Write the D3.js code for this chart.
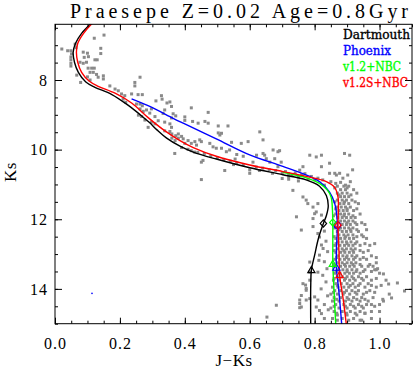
<!DOCTYPE html>
<html lang="en">
<head>
<meta charset="utf-8" />
<title>Praesepe CMD</title>
<script src="https://d3js.org/d3.v7.min.js"></script>
<style>
  body { margin: 0; background: #fff; }
  svg { display: block; }
</style>
</head>
<body>
<svg id="chart" width="415" height="371"></svg>
<script>
// isochrones, [J-Ks, Ks]
const dartmouth = [[0.135,6.17],[0.108,6.40],[0.082,6.66],[0.063,6.95],[0.056,7.2],[0.06,7.49],[0.072,7.78],[0.095,8.06],
  [0.123,8.21],[0.174,8.41],[0.226,8.73],[0.277,9.11],[0.292,9.23],[0.315,9.44],[0.344,9.67],[0.385,9.9],[0.426,10.07],
  [0.497,10.27],[0.6,10.52],[0.702,10.72],[0.774,10.87],[0.815,11.05],[0.836,11.32],[0.842,11.61],[0.836,11.9],
  [0.827,12.12],[0.812,12.54],[0.8,13.03],[0.79,13.46],[0.788,13.91],[0.788,15.2]];
const phoenix = [[0.236,8.54],[0.292,8.76],[0.364,9.1],[0.395,9.24],[0.497,9.69],[0.6,10.15],[0.702,10.48],[0.785,10.77],
  [0.815,10.92],[0.846,11.22],[0.862,11.55],[0.868,11.86],[0.87,12.17],[0.867,12.93],[0.867,13.39],[0.875,14.1],[0.885,15.2]];
const v12NBC = [[0.702,10.65],[0.74,10.73],[0.775,10.81],[0.815,10.97],[0.84,11.17],[0.851,11.37],[0.855,11.75],
  [0.856,12.09],[0.856,12.74],[0.856,13.28],[0.86,14.1],[0.866,15.2]];
const v12sNBC = [[0.14,6.17],[0.112,6.4],[0.088,6.66],[0.07,6.95],[0.066,7.2],[0.07,7.49],[0.082,7.78],[0.105,8.03],
  [0.133,8.18],[0.185,8.38],[0.236,8.66],[0.287,9.08],[0.34,9.47],[0.385,9.74],[0.426,9.94],[0.497,10.19],[0.6,10.44],
  [0.702,10.63],[0.774,10.77],[0.836,10.92],[0.862,11.09],[0.872,11.36],[0.873,11.76],[0.872,12.17],[0.875,12.93],
  [0.877,13.6],[0.888,14.3],[0.9,15.2]];

// marked masses on each isochrone: [J-Ks, Ks, symbol]
const dartmouthMarks = [[0.827,12.12,"diamond"],[0.79,13.46,"triangle"]];
const phoenixMarks = [[0.87,12.17,"circle"],[0.867,13.39,"triangle"]];
const v12NBCMarks = [[0.856,12.09,"diamond"],[0.856,13.28,"triangle"]];
const v12sNBCMarks = [[0.872,12.17,"diamond"],[0.877,13.6,"triangle"]];

const legendNames = ["Dartmouth","Phoenix","v1.2+NBC","v1.2S+NBC"];
const legendColors = ["#000000","#0000ff","#00ff00","#ff0000"];
const legendWidths = [67, 48, 58, 65];

const xTicks = [0.0,0.2,0.4,0.6,0.8,1.0];
const yTicks = [8,10,12,14];

// cluster members, [J-Ks, Ks]
const starsUpper = [[0.021,7.11],[0.039,7.16],[0.049,7.16],[0.051,7.25],[0.049,7.34],[0.049,7.42],[0.049,7.52],[0.049,7.6],
  [0.062,6.97],[0.065,7.07],[0.087,7.2],[0.1,7.23],[0.103,7.33],[0.09,7.35],[0.077,7.49],[0.087,7.52],[0.097,7.49],
  [0.121,6.8],[0.151,6.71],[0.141,7.09],[0.141,7.24],[0.123,7.42],[0.13,7.42],
  [0.102,7.66],[0.113,7.66],[0.121,7.66],[0.108,7.78],[0.118,7.78],[0.067,7.86],[0.079,8.07],
  [0.128,7.84],[0.133,7.92],[0.149,7.88],[0.149,7.97],[0.169,8.17],[0.1,7.91],[0.108,8.0],
  [0.262,7.92],[0.246,8.07],[0.246,8.17],[0.185,8.26],[0.195,8.31],[0.205,8.4],[0.215,8.45],
  [0.236,8.4],[0.256,8.42],[0.269,8.42],[0.21,8.55],[0.218,8.64],[0.251,8.69],[0.262,8.69],[0.269,8.74],
  [0.328,8.45],[0.33,8.55],[0.345,8.66],[0.354,8.63],[0.359,8.76],[0.338,8.86],[0.333,8.96],[0.311,8.6],
  [0.262,8.83],[0.272,8.9],[0.282,8.86],[0.297,8.83],[0.257,9.01],[0.267,9.05],[0.292,8.95],[0.308,9.05],
  [0.277,9.15],[0.297,9.21],[0.308,9.26],[0.318,9.17],[0.338,9.21],[0.354,9.26],[0.359,9.36],
  [0.287,9.36],[0.338,9.46],[0.354,9.48]];
const starsMiddle = [[0.42,8.8],[0.364,8.97],[0.372,9.03],[0.359,9.09],[0.4,9.06],[0.4,9.16],[0.472,8.93],
  [0.424,9.19],[0.441,9.24],[0.462,9.19],[0.472,9.24],[0.503,9.32],[0.533,9.32],
  [0.503,9.52],[0.513,9.53],[0.508,9.58],
  [0.36,9.55],[0.372,9.6],[0.38,9.55],[0.39,9.62],[0.395,9.69],[0.41,9.74],[0.38,9.67],[0.37,9.74],[0.36,9.67],
  [0.369,10.11],[0.4,9.82],[0.42,9.82],[0.431,9.77],[0.436,9.87],[0.446,9.72],[0.451,9.77],
  [0.477,9.82],[0.487,9.92],[0.497,9.96],[0.513,9.96],[0.528,10.06],[0.538,10.01],
  [0.451,10.36],[0.456,10.31],[0.451,10.86],[0.523,10.6],
  [0.544,9.79],[0.574,9.82],[0.595,9.77],[0.631,9.49],[0.641,9.72],
  [0.672,10.01],[0.687,10.06],[0.621,10.16],[0.641,10.11],[0.651,10.26],
  [0.61,10.36],[0.662,10.36],[0.677,10.26],[0.687,10.49],[0.697,10.36],
  [0.56,10.38],[0.58,10.43],[0.62,10.5],[0.64,10.53],[0.66,10.58],[0.68,10.6],[0.7,10.68],[0.71,10.63],
  [0.54,10.33],[0.52,10.28],[0.5,10.23],[0.48,10.18],[0.46,10.11],[0.44,10.08],[0.42,10.03],
  [0.55,10.43],[0.6,10.58],[0.63,10.6],[0.67,10.68],[0.72,10.78],
  [0.56,10.14],[0.58,10.19],[0.555,10.27],[0.41,9.99],[0.43,10.07],[0.39,9.94],
  [0.6,10.68],[0.7,10.83]];
const starsKnee = [[0.646,10.16],[0.692,10.03],[0.785,10.16],[0.805,10.21],[0.821,10.16],[0.764,10.49],[0.821,10.49],[0.846,10.39],
  [0.846,10.68],[0.862,10.68],[0.877,10.68],[0.887,10.82],[0.902,10.73],[0.85,10.92],[0.865,10.97],[0.88,10.94],
  [0.895,11.02],[0.91,10.92],[0.754,10.59],[0.867,10.73],
  [0.73,10.75],[0.75,10.79],[0.76,10.72],[0.78,10.85],[0.8,10.87],[0.74,10.67],[0.77,10.69],[0.72,10.69],
  [0.79,10.77],[0.81,10.82],[0.825,10.87],[0.83,11.02],[0.72,10.85],[0.75,10.9],
  [0.892,10.11],[0.908,10.16],[0.917,10.58],
  [0.733,11.17],[0.764,11.36],[0.744,11.93]];
const starsBlueward = [[0.774,11.45],[0.779,11.55],[0.8,11.84],[0.795,11.98],[0.759,12.31],[0.81,12.41],[0.815,12.51],
  [0.821,12.74],[0.826,12.84],[0.815,13.03],[0.813,13.18],[0.81,13.52],[0.764,13.85],[0.759,14.19],[0.754,14.42],
  [0.759,14.52],[0.785,14.28],[0.8,14.23],[0.81,14.32],[0.805,14.52],[0.815,14.62],[0.821,14.71],
  [0.81,11.55],[0.795,11.65],[0.805,11.79],[0.821,11.88],[0.795,12.21],
  [0.772,13.89],[0.774,13.99],[0.754,14.32],[0.754,14.54],[0.682,14.47],[0.653,14.81],
  [0.785,13.23],[0.785,13.52],[0.785,13.75],[0.774,14.04],[0.774,14.32],
  [0.83,12.34],[0.835,12.63],[0.84,12.93],[0.83,13.22],[0.838,13.42],[0.825,13.61],[0.835,13.8],[0.82,14.0],
  [0.84,14.2],[0.83,14.45],[0.842,14.6],[0.83,14.85]];
// dense lower main sequence, read row by row: [Ks, [J-Ks...]]
const starsDenseRows = [
  [11.05,[0.87,0.89,0.905]],
  [11.10,[0.862,0.9]],
  [11.15,[0.88,0.895,0.92]],
  [11.25,[0.87,0.885,0.9,0.93]],
  [11.30,[0.875,0.912]],
  [11.35,[0.88,0.892,0.905]],
  [11.45,[0.87,0.885,0.898,0.915]],
  [11.50,[0.862,0.892,0.925]],
  [11.55,[0.878,0.89,0.905,0.935]],
  [11.65,[0.87,0.882,0.895,0.91]],
  [11.70,[0.865,0.9,0.93]],
  [11.75,[0.875,0.888,0.9,0.92]],
  [11.85,[0.865,0.88,0.892,0.905,0.94]],
  [11.90,[0.858,0.89,0.918]],
  [11.95,[0.872,0.885,0.898,0.912,0.925]],
  [12.05,[0.88,0.892,0.905,0.918]],
  [12.10,[0.868,0.9,0.925,0.945]],
  [12.15,[0.885,0.898,0.91,0.93,0.955]],
  [12.25,[0.862,0.88,0.892,0.905,0.918]],
  [12.30,[0.875,0.91,0.93,0.96]],
  [12.35,[0.87,0.885,0.898,0.912,0.935]],
  [12.45,[0.875,0.89,0.903,0.918,0.945]],
  [12.50,[0.86,0.895,0.93,0.95]],
  [12.55,[0.865,0.88,0.893,0.907,0.92,0.96]],
  [12.65,[0.872,0.885,0.898,0.912,0.93]],
  [12.70,[0.866,0.9,0.925,0.955,0.985]],
  [12.75,[0.862,0.878,0.892,0.905,0.918,0.94,0.97]],
  [12.85,[0.87,0.885,0.898,0.912,0.925]],
  [12.90,[0.86,0.89,0.918,0.94,0.965]],
  [12.95,[0.865,0.88,0.893,0.907,0.92,0.95]],
  [13.05,[0.872,0.887,0.9,0.915,0.93,0.975]],
  [13.10,[0.868,0.898,0.925,0.95,0.99]],
  [13.15,[0.862,0.878,0.892,0.905,0.92,0.94,0.96]],
  [13.25,[0.87,0.885,0.9,0.913,0.927,0.99]],
  [13.30,[0.858,0.892,0.918,0.94,0.97]],
  [13.35,[0.865,0.88,0.895,0.908,0.922,0.945,0.965]],
  [13.45,[0.872,0.887,0.9,0.915,0.93,0.955,0.985]],
  [13.50,[0.866,0.9,0.928,0.95,0.975]],
  [13.55,[0.862,0.878,0.893,0.907,0.92,0.94,1.0]],
  [13.65,[0.87,0.885,0.9,0.915,0.935,0.96]],
  [13.70,[0.86,0.895,0.92,0.945,0.99]],
  [13.75,[0.858,0.875,0.892,0.908,0.925,0.95,0.975,1.02]],
  [13.85,[0.865,0.882,0.9,0.918,0.94,0.965]],
  [13.90,[0.87,0.91,0.935,0.975,1.005]],
  [13.95,[0.855,0.872,0.89,0.905,0.925,0.955,0.99]],
  [14.05,[0.862,0.88,0.898,0.915,0.935,0.97]],
  [14.10,[0.858,0.892,0.925,0.96,0.985]],
  [14.15,[0.85,0.87,0.888,0.908,0.93,0.95,1.03]],
  [14.25,[0.86,0.88,0.9,0.92,0.945,0.98]],
  [14.30,[0.868,0.905,0.93,0.955,1.01]],
  [14.35,[0.855,0.875,0.895,0.915,0.94,0.965]],
  [14.45,[0.865,0.89,0.91,0.935,0.96,1.0]],
  [14.50,[0.86,0.895,0.92,0.945,0.985]],
  [14.55,[0.85,0.875,0.9,0.925,0.95]],
  [14.65,[0.86,0.885,0.91,0.94,0.975]],
  [14.70,[0.868,0.898,0.925,0.955]],
  [14.75,[0.87,0.9,0.93]],
  [14.85,[0.855,0.885,0.92]],
  [14.90,[0.87,0.905,0.945]]];
const starsRedTail = [[0.994,13.42],[1.012,13.57],[1.028,13.86],[1.055,13.83],[1.077,14.06],[1.037,14.26],[1.012,14.35],
  [0.975,14.45],[1.0,14.65],[0.955,14.7],[0.975,14.85],[0.94,14.9],[0.98,13.35],[0.99,13.45]];
const strayBlue = [[0.114,14.13]];

const svg = d3.select("#chart");
const margin = {left: 55, right: 412, top: 24.3, bottom: 323.7};
const x = d3.scaleLinear().domain([0, 1.1]).range([margin.left, margin.right]);
const y = d3.scaleLinear().domain([6.4, 15]).range([margin.top, margin.bottom]);

svg.append("clipPath").attr("id", "plotclip")
  .append("rect")
  .attr("x", margin.left).attr("y", margin.top)
  .attr("width", margin.right - margin.left).attr("height", margin.bottom - margin.top);

const plot = svg.append("g").attr("clip-path", "url(#plotclip)");

// stars
const stars = starsUpper.concat(starsMiddle, starsKnee, starsBlueward, starsRedTail);
starsDenseRows.forEach(r => r[1].forEach(c => stars.push([c, r[0]])));

plot.selectAll("rect.star")
  .data(stars)
  .enter()
  .append("rect")
  .attr("class", "star")
  .attr("x", d => x(d[0]) - 1.5)
  .attr("y", d => y(d[1]) - 1.5)
  .attr("width", 3)
  .attr("height", 3)
  .attr("fill", "#8a8a8a");

plot.selectAll("circle.stray")
  .data(strayBlue)
  .enter()
  .append("circle")
  .attr("cx", d => x(d[0]))
  .attr("cy", d => y(d[1]))
  .attr("r", 0.8)
  .attr("fill", "#0000ff");

// isochrones
const line = d3.line()
  .x(d => x(d[0]))
  .y(d => y(d[1]))
  .curve(d3.curveCatmullRom.alpha(0.5));

const models = [
  {data: dartmouth, marks: dartmouthMarks, color: legendColors[0]},
  {data: phoenix, marks: phoenixMarks, color: legendColors[1]},
  {data: v12NBC, marks: v12NBCMarks, color: legendColors[2]},
  {data: v12sNBC, marks: v12sNBCMarks, color: legendColors[3]}
];

models.forEach(m => {
  plot.append("path")
    .datum(m.data)
    .attr("d", line)
    .attr("fill", "none")
    .attr("stroke", m.color)
    .attr("stroke-width", 1.4);
});

function markPath(kind) {
  if (kind === "diamond") return "M0,-3.6L3.2,0L0,3.6L-3.2,0Z";
  if (kind === "triangle") return "M0,-3.6L3.6,2.6L-3.6,2.6Z";
  return d3.arc()({innerRadius: 0, outerRadius: 3.2, startAngle: 0, endAngle: 2 * Math.PI});
}

models.forEach(m => {
  plot.selectAll(null)
    .data(m.marks)
    .enter()
    .append("path")
    .attr("transform", d => "translate(" + x(d[0]) + "," + y(d[1]) + ")")
    .attr("d", d => markPath(d[2]))
    .attr("fill", "none")
    .attr("stroke", m.color)
    .attr("stroke-width", 1.2);
});

// axes
const minorX = d3.range(0, 1.1001, 0.05);
const minorY = d3.range(6.5, 15.001, 0.5);

function styleAxis(g) {
  g.select(".domain").remove();
  g.selectAll("line").attr("stroke", "#000");
}

svg.append("g").attr("transform", "translate(0," + margin.bottom + ")")
  .call(d3.axisBottom(x).tickValues(minorX).tickSize(-3).tickFormat(""))
  .call(styleAxis);
svg.append("g").attr("transform", "translate(0," + margin.bottom + ")")
  .call(d3.axisBottom(x).tickValues(xTicks).tickSize(-6).tickPadding(14).tickFormat(d3.format(".1f")))
  .call(styleAxis);
svg.append("g").attr("transform", "translate(0," + margin.top + ")")
  .call(d3.axisTop(x).tickValues(minorX).tickSize(-3).tickFormat(""))
  .call(styleAxis);
svg.append("g").attr("transform", "translate(0," + margin.top + ")")
  .call(d3.axisTop(x).tickValues(xTicks).tickSize(-6).tickFormat(""))
  .call(styleAxis);

svg.append("g").attr("transform", "translate(" + margin.left + ",0)")
  .call(d3.axisLeft(y).tickValues(minorY).tickSize(-3).tickFormat(""))
  .call(styleAxis);
svg.append("g").attr("transform", "translate(" + margin.left + ",0)")
  .call(d3.axisLeft(y).tickValues(yTicks).tickSize(-7).tickPadding(7).tickFormat(d3.format("d")))
  .call(styleAxis);
svg.append("g").attr("transform", "translate(" + margin.right + ",0)")
  .call(d3.axisRight(y).tickValues(minorY).tickSize(-3).tickFormat(""))
  .call(styleAxis);
svg.append("g").attr("transform", "translate(" + margin.right + ",0)")
  .call(d3.axisRight(y).tickValues(yTicks).tickSize(-7).tickFormat(""))
  .call(styleAxis);

svg.selectAll(".tick text")
  .attr("fill", "#000")
  .style("font-family", "'Liberation Serif', serif")
  .style("font-size", "16px")
  .style("letter-spacing", "1px");

svg.append("rect")
  .attr("x", margin.left).attr("y", margin.top)
  .attr("width", margin.right - margin.left).attr("height", margin.bottom - margin.top)
  .attr("fill", "none").attr("stroke", "#000").attr("stroke-width", 1);

// titles
svg.append("text")
  .attr("x", 70).attr("y", 18)
  .attr("textLength", 338).attr("lengthAdjust", "spacing")
  .style("font-family", "'Liberation Serif', serif")
  .style("font-size", "20px")
  .text("Praesepe Z=0.02 Age=0.8Gyr");

svg.append("text")
  .attr("x", 234).attr("y", 366)
  .attr("text-anchor", "middle")
  .style("font-family", "'Liberation Serif', serif")
  .style("font-size", "17px")
  .style("letter-spacing", "0.5px")
  .text("J\u2212Ks");

svg.append("text")
  .attr("transform", "translate(16,172) rotate(-90)")
  .attr("text-anchor", "middle")
  .style("font-family", "'Liberation Serif', serif")
  .style("font-size", "17px")
  .style("letter-spacing", "0.5px")
  .text("Ks");

// legend
svg.selectAll("text.legend")
  .data(legendNames)
  .enter()
  .append("text")
  .attr("class", "legend")
  .attr("x", 343)
  .attr("y", (d, i) => 39 + i * 16)
  .attr("fill", (d, i) => legendColors[i])
  .attr("stroke", (d, i) => legendColors[i])
  .attr("stroke-width", 0.35)
  .attr("textLength", (d, i) => legendWidths[i])
  .attr("lengthAdjust", "spacingAndGlyphs")
  .style("font-family", "'DejaVu Serif', serif")
  .style("font-size", "12px")
  .text(d => d);
</script>
</body>
</html>
